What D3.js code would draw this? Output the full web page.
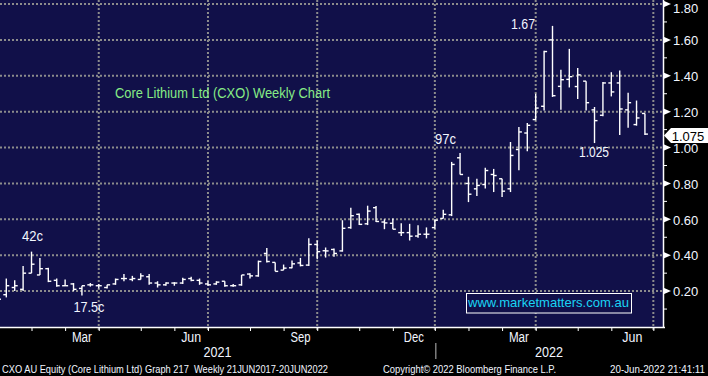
<!DOCTYPE html>
<html><head><meta charset="utf-8">
<script src="https://cdn.jsdelivr.net/npm/d3@7"></script>
<style>
html,body{margin:0;padding:0;background:#000;}
svg{display:block;}
text{font-family:"Liberation Sans",Arial,sans-serif;}
</style></head><body>
<svg id="chart" width="708" height="376"></svg>
<script>
// ---- data (weekly OHLC, bar slots -1 .. 76) ----
const barSlots = d3.range(-1, 77);
const opens  = [0.16,0.18,0.22,0.21,0.30,0.29,0.325,0.26,0.23,0.24,0.215,0.235,0.23,0.22,0.24,0.27,0.265,0.265,0.28,0.245,0.235,0.245,0.245,0.27,0.26,0.24,0.24,0.255,0.23,0.235,0.295,0.285,0.41,0.36,0.317,0.33,0.357,0.345,0.46,0.425,0.432,0.424,0.554,0.628,0.575,0.665,0.585,0.578,0.526,0.526,0.507,0.517,0.554,0.605,0.625,0.943,0.80,0.77,0.794,0.85,0.826,0.77,0.989,1.081,1.156,1.23,1.60,1.341,1.38,1.34,1.37,1.21,1.18,1.36,1.36,1.21,1.128,1.19];
const highs  = [0.17,0.27,0.26,0.34,0.42,0.385,0.33,0.27,0.265,0.245,0.23,0.245,0.24,0.235,0.27,0.295,0.285,0.30,0.295,0.255,0.25,0.25,0.275,0.28,0.27,0.255,0.255,0.255,0.24,0.29,0.30,0.37,0.44,0.36,0.348,0.37,0.385,0.494,0.482,0.443,0.437,0.595,0.665,0.632,0.676,0.674,0.60,0.604,0.578,0.575,0.567,0.555,0.60,0.654,0.92,0.97,0.837,0.826,0.887,0.881,0.826,1.031,1.115,1.137,1.30,1.539,1.678,1.433,1.55,1.443,1.37,1.226,1.365,1.42,1.43,1.305,1.262,1.19];
const lows   = [0.14,0.165,0.20,0.20,0.30,0.29,0.25,0.225,0.23,0.20,0.175,0.225,0.215,0.215,0.235,0.255,0.255,0.265,0.235,0.22,0.23,0.23,0.24,0.255,0.235,0.23,0.235,0.225,0.225,0.23,0.27,0.28,0.36,0.31,0.317,0.328,0.338,0.34,0.378,0.387,0.392,0.42,0.548,0.568,0.568,0.585,0.545,0.545,0.507,0.482,0.498,0.494,0.548,0.604,0.618,0.85,0.696,0.73,0.772,0.752,0.724,0.752,0.874,0.98,1.152,1.207,1.282,1.211,1.335,1.27,1.206,1.025,1.175,1.285,1.07,1.11,1.122,1.07];
const closes = [0.155,0.23,0.23,0.30,0.35,0.325,0.255,0.23,0.23,0.21,0.23,0.235,0.23,0.235,0.265,0.27,0.27,0.285,0.245,0.235,0.245,0.245,0.265,0.26,0.245,0.235,0.25,0.23,0.23,0.29,0.285,0.365,0.365,0.31,0.328,0.352,0.343,0.46,0.42,0.424,0.41,0.55,0.62,0.572,0.646,0.588,0.58,0.545,0.526,0.506,0.517,0.517,0.595,0.628,0.906,0.85,0.74,0.789,0.872,0.844,0.757,0.956,1.087,1.124,1.22,1.535,1.289,1.378,1.395,1.405,1.25,1.15,1.36,1.31,1.215,1.25,1.165,1.075];

const yTicks = [0.2,0.4,0.6,0.8,1.0,1.2,1.4,1.6,1.8];
const yMinorTicks = [0.1,0.3,0.5,0.7,0.9,1.1,1.3,1.5,1.7];
const monthTickSlots = [3,7,11,16,20,24,29,33,37,42,46,51,55,59,63,68,72,77];
const quarterGridSlots = [11,24,37,51,63,77];
const monthLabels = ["Mar","Jun","Sep","Dec","Mar","Jun"];
const monthLabelStart = [7,20,33,46,59,72];
const monthLabelEnd = [11,24,37,51,63,77];
const yearLabels = ["2021","2022"];
const yearBoundarySlot = 51;
const lastPrice = 1.075;

const noteLabels = ["42c","17.5c","97c","1.67","1.025"];
const noteSlots  = [3,9,54,65,70];
const noteValues = [0.42,0.175,0.97,1.67,1.025];

const titleText = "Core Lithium Ltd (CXO) Weekly Chart";
const watermark = "www.marketmatters.com.au";
const footerLeft = "CXO AU Equity (Core Lithium Ltd) Graph 217  Weekly 21JUN2017-20JUN2022";
const footerMid = "Copyright\u00A9 2022 Bloomberg Finance L.P.";
const footerRight = "20-Jun-2022 21:41:11";

// ---- layout ----
const W = 708, H = 376;
const plotR = 663, plotB = 327;
const bg = "#111049";
const gridCol = "#8c8c8c";
const svg = d3.select("#chart");

const x = d3.scaleLinear().domain([-0.75, 78.15]).range([0, plotR]);
const y = d3.scaleLinear().domain([0, 1.8]).range([plotB, 4]);

svg.append("rect").attr("width", W).attr("height", H).attr("fill", "#000");
svg.append("rect").attr("x", 0).attr("y", 0).attr("width", plotR).attr("height", plotB).attr("fill", bg);

// grid
const grid = svg.append("g");
grid.selectAll("line.h").data(yTicks).join("line")
  .attr("x1", 0).attr("x2", plotR)
  .attr("y1", d => y(d)).attr("y2", d => y(d))
  .attr("stroke", gridCol).attr("stroke-width", 2).attr("stroke-dasharray", "2,2");
grid.selectAll("line.v").data(quarterGridSlots).join("line")
  .attr("x1", d => x(d)).attr("x2", d => x(d))
  .attr("y1", 0).attr("y2", plotB + 4)
  .attr("stroke", gridCol).attr("stroke-width", 2).attr("stroke-dasharray", "2,2");

// title
svg.append("text").attr("x", 115).attr("y", 98).attr("font-size", 14)
  .attr("fill", "#86ec86").attr("textLength", 215).attr("lengthAdjust", "spacingAndGlyphs")
  .text(titleText);

// bars
const bars = barSlots.map((s, i) => ({s, o: opens[i], h: highs[i], l: lows[i], c: closes[i]}));
const gb = svg.append("g").attr("stroke", "#fff").attr("stroke-width", 1.4);
const bg2 = gb.selectAll("g").data(bars).join("g");
bg2.append("line").attr("x1", d => x(d.s)).attr("x2", d => x(d.s)).attr("y1", d => y(d.h)).attr("y2", d => y(d.l));
bg2.append("line").attr("x1", d => x(d.s) - 3).attr("x2", d => x(d.s)).attr("y1", d => y(d.o)).attr("y2", d => y(d.o));
bg2.append("line").attr("x1", d => x(d.s)).attr("x2", d => x(d.s) + 3).attr("y1", d => y(d.c)).attr("y2", d => y(d.c));

// annotations
const noteDx = [1, 7, -14.5, -29.5, -0.5];
const noteDy = [-10.5, 16.5, -8.5, 1.5, 14];
const noteW  = [21, 31, 21, 24, 30];
noteLabels.forEach((t, i) => {
  svg.append("text").attr("x", x(noteSlots[i]) + noteDx[i]).attr("y", y(noteValues[i]) + noteDy[i])
    .attr("text-anchor", "middle").attr("font-size", 14).attr("fill", "#f2f6ff")
    .attr("textLength", noteW[i]).attr("lengthAdjust", "spacingAndGlyphs").text(t);
});

// watermark
svg.append("rect").attr("x", 466.5).attr("y", 293.5).attr("width", 165).attr("height", 19.5)
  .attr("fill", bg).attr("stroke", "#fff").attr("stroke-width", 1);
svg.append("text").attr("x", 468).attr("y", 307).attr("font-size", 13).attr("fill", "#1ad4f4")
  .attr("textLength", 161).attr("lengthAdjust", "spacingAndGlyphs").text(watermark);

// right axis
const ya = svg.append("g").attr("transform", `translate(${plotR},0)`)
  .call(d3.axisRight(y).tickValues(yTicks).tickFormat(d3.format(".2f")).tickSize(0).tickPadding(10));
ya.select(".domain").remove();
ya.selectAll("text").attr("font-size", 13).attr("fill", "#f2f6ff")
  .attr("font-family", "Liberation Sans, Arial, sans-serif")
  .attr("dy", d => d === 1.8 ? "0.68em" : "0.36em").attr("x", 10);
svg.append("line").attr("x1", plotR + 0.5).attr("x2", plotR + 0.5).attr("y1", 0).attr("y2", plotB + 1)
  .attr("stroke", "#fff").attr("stroke-width", 1.5);
svg.selectAll("path.tri").data(yTicks).join("path")
  .attr("d", d => `M${plotR},${y(d) - 3.5}L${plotR + 8},${y(d)}L${plotR},${y(d) + 3.5}Z`)
  .attr("fill", "#fff");
svg.selectAll("line.minor").data(yMinorTicks).join("line")
  .attr("x1", plotR).attr("x2", plotR + 4).attr("y1", d => y(d)).attr("y2", d => y(d))
  .attr("stroke", "#fff").attr("stroke-width", 1);

// last price tag
const ly = y(lastPrice) + 1.5;
svg.append("path")
  .attr("d", `M${plotR + 1},${ly}L${plotR + 8},${ly - 7.5}L${W},${ly - 7.5}L${W},${ly + 7.5}L${plotR + 8},${ly + 7.5}Z`)
  .attr("fill", "#fff");
svg.append("text").attr("x", 688).attr("y", ly + 5).attr("text-anchor", "middle")
  .attr("font-size", 13).attr("fill", "#000").text(d3.format(".3f")(lastPrice));

// bottom axis
const xa = svg.append("g").attr("transform", `translate(0,${plotB})`)
  .call(d3.axisBottom(x).tickValues(monthTickSlots).tickSize(4).tickFormat(""));
xa.select(".domain").remove();
xa.selectAll("line").attr("stroke", "#fff").attr("stroke-width", 1);
svg.append("line").attr("x1", 0).attr("x2", plotR + 2).attr("y1", plotB + 0.5).attr("y2", plotB + 0.5)
  .attr("stroke", "#fff").attr("stroke-width", 1.5);

monthLabels.forEach((m, i) => {
  svg.append("text").attr("x", (x(monthLabelStart[i]) + x(monthLabelEnd[i])) / 2).attr("y", 342)
    .attr("text-anchor", "middle").attr("font-size", 14).attr("fill", "#f2f6ff")
    .attr("textLength", 20).attr("lengthAdjust", "spacingAndGlyphs").text(m);
});
const yb = x(yearBoundarySlot);
const yearCenters = [yb / 2, (yb + plotR) / 2];
yearLabels.forEach((t, i) => {
  svg.append("text").attr("x", yearCenters[i]).attr("y", 357).attr("text-anchor", "middle")
    .attr("font-size", 15).attr("fill", "#f2f6ff")
    .attr("textLength", 28).attr("lengthAdjust", "spacingAndGlyphs").text(t);
});
svg.append("line").attr("x1", yb + 1).attr("x2", yb + 1).attr("y1", 343).attr("y2", 359)
  .attr("stroke", "#bbb").attr("stroke-width", 1);

// footer
const foot = [[footerLeft, 2, 326], [footerMid, 383, 173], [footerRight, 610, 95]];
foot.forEach(([t, fx, fw]) => {
  svg.append("text").attr("x", fx).attr("y", 373).attr("font-size", 11).attr("fill", "#f2f6ff")
    .style("white-space", "pre")
    .attr("textLength", fw).attr("lengthAdjust", "spacingAndGlyphs").text(t);
});
</script>
</body></html>
